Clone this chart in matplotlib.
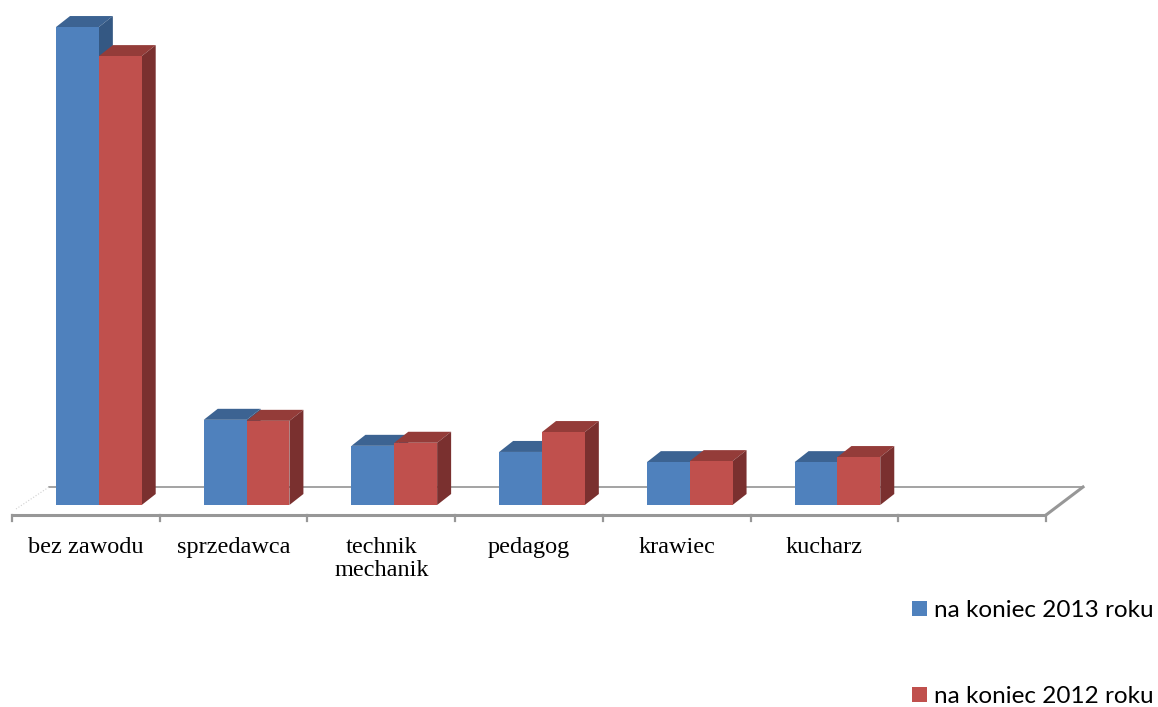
import matplotlib
matplotlib.use('Agg')
import matplotlib.pyplot as plt
from matplotlib.patches import Polygon, Patch

# values (arbitrary units, 100 = one hidden gridline)
categories = ['bez zawodu', 'sprzedawca', 'technik\nmechanik', 'pedagog', 'krawiec', 'kucharz']
vals_2013 = [937, 167, 116, 104, 84, 84]
vals_2012 = [880, 165, 122, 143, 86, 94]
series_labels = ['na koniec 2013 roku', 'na koniec 2012 roku']

n_slots = 7  # last slot is empty in the original
W, H = 1158, 707
fig = plt.figure(figsize=(W / 100, H / 100), dpi=100)
fig.patch.set_facecolor('white')

ax_l, ax_w, ax_base, ax_h = 25, 1034, 505, 505
ax = fig.add_axes([ax_l / W, (H - ax_base) / H, ax_w / W, ax_h / H])
ymax = 990
ax.set_xlim(0, n_slots)
ax.set_ylim(0, ymax)
for s in ax.spines.values():
    s.set_visible(False)
ax.set_yticks([])

# pixel -> data conversion
px = n_slots / ax_w
py = ymax / ax_h

blue = ('#4F81BD', '#3C6392', '#345883')
red = ('#C0504D', '#943C39', '#7A302F')

bar_w = 0.29
ddx, ddy = 14 * px, 11 * py


def bar3d(x0, h, cols, z):
    front, top, side = cols
    ax.bar(x0, h, width=bar_w, align='edge', color=front, linewidth=0, zorder=z + 0.2)
    ax.add_patch(Polygon([(x0, h), (x0 + bar_w, h), (x0 + bar_w + ddx, h + ddy), (x0 + ddx, h + ddy)],
                         closed=True, facecolor=top, edgecolor='none', zorder=z, clip_on=False))
    ax.add_patch(Polygon([(x0 + bar_w, 0), (x0 + bar_w + ddx, ddy), (x0 + bar_w + ddx, h + ddy), (x0 + bar_w, h)],
                         closed=True, facecolor=side, edgecolor='none', zorder=z + 0.1, clip_on=False))


for i in range(len(categories)):
    bar3d(i + 0.21, vals_2013[i], blue, 2)
    bar3d(i + 0.21 + bar_w, vals_2012[i], red, 3)

# floor
fx0, fy0 = -13 * px, -10 * py   # front edge offset
bx0, by0 = 24 * px, 18 * py     # back edge offset
ax.plot([bx0, n_slots + bx0], [by0, by0], color='#8a8a8a', lw=1.1, zorder=1, clip_on=False)
ax.plot([fx0, n_slots + fx0], [fy0, fy0], color='#979797', lw=2.2, zorder=4, clip_on=False,
        solid_capstyle='butt')
ax.plot([n_slots + fx0, n_slots + bx0], [fy0, by0], color='#979797', lw=2.2, zorder=4, clip_on=False)
ax.plot([fx0 + 4 * px, bx0], [fy0 + 6 * py, by0], color='#d0d0d0', lw=0.8, ls=':', zorder=1, clip_on=False)
for k in range(n_slots + 1):
    ax.plot([k + fx0, k + fx0], [fy0, fy0 - 6 * py], color='#979797', lw=1.6, zorder=4, clip_on=False)

# category labels on the front edge
ax.set_xticks([i + 0.5 + fx0 for i in range(len(categories))], labels=categories)
ax.tick_params(axis='x', length=0, pad=23)
for t in ax.get_xticklabels():
    t.set_fontfamily('Liberation Serif')
    t.set_fontsize(17.5)
    t.set_color('black')
    t.set_linespacing(1.1)

handles = [Patch(facecolor=blue[0]), Patch(facecolor=red[0])]
fig.legend(handles, series_labels, loc='upper left', bbox_to_anchor=(912 / W, 1 - 600 / H),
           frameon=False, borderpad=0, borderaxespad=0, handlelength=0.62, handleheight=0.62,
           handletextpad=0.3, labelspacing=2.68,
           prop={'family': 'Lato', 'size': 17.5})

fig.savefig('out.png', dpi=100, facecolor='white')
